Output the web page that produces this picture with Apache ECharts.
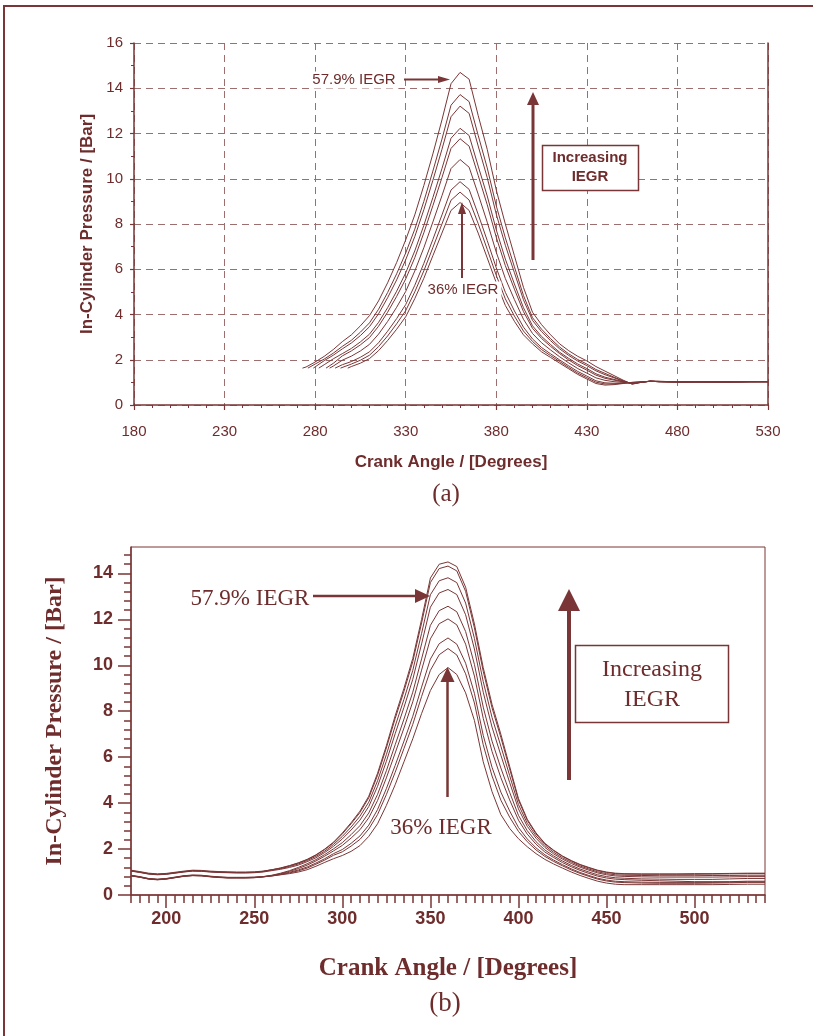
<!DOCTYPE html>
<html><head><meta charset="utf-8">
<script src="https://cdn.jsdelivr.net/npm/echarts@6/dist/echarts.min.js"></script>
<style>html,body{margin:0;padding:0;background:#fff}#c{width:813px;height:1036px}</style>
</head><body><div id="c"></div>
<script>
// ---------- Chart (a) data ----------
const anglesA = [275,280,285,290,295,300,305,310,315,320,325,330,335,340,345,350,355,360,365,370,375,380,385,390,395,400,405,410,415,420,425,430,435,440,445,450,455,460,465,470,480,490,500,510,520,530];
const startsA = [273,276,279,282,286,288,291,294,298];
const startPressureA = 1.63;
const pA1 = [1.68,1.90,2.15,2.45,2.80,3.10,3.50,3.95,4.60,5.40,6.30,7.30,8.40,9.70,11.10,12.60,14.20,14.70,14.40,12.80,11.30,9.50,8.00,6.60,5.20,4.10,3.55,3.10,2.70,2.40,2.15,1.95,1.70,1.50,1.30,1.10,0.92,1.00,1.05,1.05,1.02,1.03,1.02,1.02,1.03,1.03];
const pA2 = [null,1.81,2.03,2.29,2.59,2.86,3.22,3.63,4.23,4.97,5.80,6.72,7.77,9.00,10.34,11.75,13.25,13.72,13.41,11.92,10.48,8.80,7.39,6.11,4.84,3.86,3.35,2.93,2.56,2.26,2.01,1.81,1.57,1.40,1.23,1.07,0.93,1.00,1.05,1.04,1.02,1.03,1.02,1.02,1.03,1.03];
const pA3 = [null,1.68,1.96,2.20,2.48,2.74,3.07,3.46,4.03,4.74,5.53,6.42,7.44,8.63,9.93,11.30,12.74,13.21,12.89,11.45,10.05,8.43,7.06,5.85,4.65,3.74,3.24,2.84,2.48,2.19,1.94,1.74,1.51,1.34,1.20,1.06,0.94,1.01,1.05,1.04,1.02,1.02,1.02,1.03,1.03,1.03];
const pA4 = [null,null,1.78,2.04,2.27,2.50,2.79,3.13,3.65,4.30,5.03,5.84,6.81,7.94,9.17,10.45,11.79,12.23,11.91,10.56,9.24,7.74,6.45,5.35,4.30,3.50,3.03,2.67,2.33,2.06,1.81,1.61,1.38,1.23,1.13,1.04,0.95,1.01,1.05,1.04,1.03,1.02,1.02,1.02,1.03,1.04];
const pA5 = [null,null,null,1.84,2.17,2.39,2.66,2.98,3.48,4.10,4.80,5.57,6.51,7.61,8.81,10.05,11.34,11.77,11.44,10.15,8.85,7.41,6.16,5.12,4.13,3.39,2.94,2.59,2.27,1.99,1.74,1.54,1.32,1.18,1.10,1.02,0.96,1.01,1.05,1.03,1.02,1.02,1.03,1.02,1.03,1.03];
const pA6 = [null,null,null,1.72,1.98,2.16,2.39,2.68,3.13,3.69,4.32,5.02,5.92,6.95,8.09,9.25,10.45,10.85,10.51,9.32,8.08,6.75,5.59,4.66,3.79,3.16,2.75,2.43,2.13,1.86,1.61,1.41,1.20,1.09,1.03,1.00,0.97,1.01,1.05,1.03,1.02,1.03,1.02,1.02,1.03,1.03];
const pA7 = [null,null,null,null,1.78,1.92,2.11,2.35,2.75,3.26,3.82,4.44,5.29,6.26,7.32,8.40,9.50,9.87,9.53,8.43,7.27,6.06,4.98,4.16,3.44,2.92,2.54,2.26,1.99,1.73,1.48,1.28,1.07,0.98,0.96,0.97,0.99,1.02,1.05,1.03,1.02,1.02,1.02,1.03,1.03,1.03];
const pA8 = [null,null,null,null,1.66,1.81,1.98,2.20,2.58,3.05,3.59,4.17,5.00,5.93,6.96,8.00,9.05,9.41,9.06,8.02,6.88,5.73,4.69,3.93,3.27,2.81,2.45,2.18,1.92,1.66,1.41,1.21,1.01,0.93,0.93,0.96,1.00,1.02,1.05,1.03,1.02,1.03,1.02,1.02,1.03,1.03];
const pA9 = [null,null,null,null,null,1.70,1.85,2.05,2.40,2.85,3.35,3.90,4.70,5.60,6.60,7.60,8.60,8.95,8.60,7.60,6.50,5.40,4.40,3.70,3.10,2.70,2.35,2.10,1.85,1.60,1.35,1.15,0.95,0.88,0.90,0.95,1.00,1.02,1.05,1.03,1.02,1.02,1.03,1.02,1.03,1.03];

// ---------- Chart (b) data ----------
const anglesB = [180,185,190,195,200,205,210,215,220,225,230,235,240,245,250,255,260,265,270,275,280,285,290,295,300,305,310,315,320,325,330,335,340,345,350,355,360,365,370,375,380,385,390,395,400,405,410,415,420,425,430,435,440,445,450,455,460,470,480,490,500,510,520,530,540];
const pB1 = [1.06,1.00,0.93,0.90,0.92,0.97,1.02,1.06,1.05,1.02,1.00,0.99,0.98,0.98,0.99,1.03,1.10,1.18,1.28,1.40,
  1.55,1.75,2.00,2.30,2.70,3.15,3.65,4.30,5.30,6.50,7.80,9.00,10.30,12.00,13.80,14.40,14.50,14.30,13.40,11.80,9.90,8.30,7.00,5.60,4.20,3.30,2.70,2.25,1.95,1.70,1.50,1.33,1.20,1.08,1.00,0.95,0.93,
  0.92,0.92,0.92,0.93,0.93,0.94,0.95,0.95];
const pB2 = [1.05,0.99,0.92,0.89,0.91,0.96,1.01,1.05,1.04,1.01,0.99,0.98,0.97,0.97,0.98,1.02,1.09,1.17,1.27,1.39,
  1.54,1.73,1.98,2.27,2.66,3.10,3.59,4.23,5.21,6.40,7.68,8.87,10.16,11.84,13.60,14.21,14.32,14.11,13.22,11.63,9.74,8.15,6.86,5.49,4.13,3.25,2.66,2.22,1.93,1.68,1.48,1.31,1.18,1.06,0.98,0.93,0.91,
  0.90,0.90,0.90,0.90,0.91,0.92,0.93,0.93];
const pB3 = [1.08,1.02,0.95,0.92,0.94,0.99,1.04,1.08,1.07,1.04,1.02,1.01,1.00,1.00,1.01,1.04,1.10,1.15,1.24,1.35,
  1.50,1.68,1.91,2.20,2.55,2.96,3.43,4.04,4.97,6.11,7.35,8.52,9.78,11.39,13.07,13.68,13.81,13.60,12.71,11.17,9.29,7.73,6.48,5.20,3.94,3.12,2.57,2.15,1.86,1.62,1.43,1.26,1.13,1.01,0.93,0.88,0.86,
  0.85,0.84,0.84,0.84,0.85,0.85,0.86,0.86];
const pB4 = [1.04,0.98,0.91,0.88,0.90,0.95,1.00,1.04,1.03,1.00,0.98,0.97,0.96,0.96,0.97,1.00,1.06,1.12,1.20,1.30,
  1.45,1.62,1.85,2.12,2.44,2.83,3.26,3.85,4.73,5.82,7.02,8.17,9.39,10.93,12.53,13.15,13.30,13.08,12.20,10.71,8.83,7.31,6.09,4.90,3.75,2.99,2.47,2.07,1.79,1.56,1.37,1.21,1.08,0.96,0.88,0.83,0.81,
  0.79,0.78,0.78,0.78,0.78,0.79,0.80,0.80];
const pB5 = [0.85,0.79,0.71,0.68,0.71,0.77,0.83,0.86,0.85,0.81,0.78,0.76,0.76,0.76,0.77,0.80,0.86,0.95,1.06,1.20,
  1.36,1.54,1.76,2.01,2.28,2.63,3.02,3.57,4.38,5.41,6.54,7.66,8.83,10.28,11.74,12.38,12.57,12.33,11.47,10.04,8.18,6.70,5.53,4.47,3.47,2.80,2.32,1.96,1.70,1.48,1.29,1.13,1.00,0.88,0.80,0.75,0.73,
  0.70,0.69,0.68,0.68,0.68,0.70,0.72,0.72];
const pB6 = [0.84,0.78,0.70,0.67,0.70,0.76,0.82,0.85,0.84,0.80,0.77,0.75,0.75,0.75,0.76,0.80,0.85,0.93,1.03,1.15,
  1.30,1.48,1.69,1.92,2.16,2.48,2.84,3.36,4.11,5.10,6.18,7.27,8.41,9.79,11.15,11.81,12.02,11.76,10.92,9.53,7.69,6.25,5.11,4.14,3.26,2.65,2.21,1.87,1.63,1.41,1.23,1.07,0.94,0.82,0.74,0.69,0.67,
  0.64,0.62,0.60,0.58,0.58,0.58,0.60,0.60];
const pB7 = [0.83,0.77,0.69,0.66,0.69,0.75,0.81,0.84,0.83,0.79,0.76,0.74,0.74,0.74,0.75,0.79,0.84,0.91,0.99,1.09,
  1.22,1.39,1.58,1.80,1.98,2.25,2.57,3.04,3.72,4.63,5.64,6.70,7.78,9.05,10.27,10.94,11.19,10.92,10.09,8.78,6.95,5.56,4.48,3.66,2.94,2.44,2.05,1.75,1.52,1.32,1.14,0.98,0.85,0.73,0.65,0.60,0.58,
  0.56,0.55,0.55,0.55,0.55,0.56,0.57,0.57];
const pB8 = [0.86,0.80,0.72,0.69,0.72,0.78,0.84,0.87,0.86,0.82,0.79,0.77,0.77,0.77,0.78,0.79,0.83,0.89,0.96,1.05,
  1.17,1.34,1.52,1.73,1.88,2.13,2.42,2.87,3.50,4.37,5.34,6.38,7.43,8.64,9.78,10.46,10.73,10.45,9.63,8.36,6.54,5.18,4.13,3.39,2.77,2.32,1.96,1.68,1.46,1.27,1.09,0.94,0.81,0.69,0.61,0.56,0.54,
  0.52,0.51,0.51,0.51,0.52,0.53,0.55,0.55];
const pB9 = [0.84,0.78,0.70,0.67,0.70,0.76,0.82,0.85,0.84,0.80,0.77,0.75,0.75,0.75,0.76,0.79,0.83,0.88,0.93,1.00,
  1.10,1.25,1.42,1.58,1.72,1.90,2.15,2.55,3.10,3.90,4.80,5.80,6.80,7.90,8.90,9.60,9.90,9.60,8.80,7.60,5.80,4.50,3.50,2.90,2.45,2.10,1.80,1.55,1.35,1.17,1.00,0.85,0.72,0.60,0.52,0.47,0.45,
  0.45,0.45,0.45,0.45,0.45,0.46,0.47,0.47];

const xLabelsB = [200,250,300,350,400,450,500];
const yLabelsB = [0,2,4,6,8,10,12,14];

// ---------- styling ----------
const MAROON = '#7a3636';
const TEXT = '#6e2c2c';
const GRIDC = '#9d6e6e';
const SANS = '"Liberation Sans", Arial, sans-serif';
const SERIF = '"Liberation Serif", "Times New Roman", serif';

const curvesA = [pA1,pA2,pA3,pA4,pA5,pA6,pA7,pA8,pA9];
const curvesB = [pB1,pB2,pB3,pB4,pB5,pB6,pB7,pB8,pB9];

const series = [];
curvesA.forEach((vals,i)=>{
  const pts = [[startsA[i], startPressureA]];
  anglesA.forEach((a,j)=>{ if(vals[j]!==null) pts.push([a, vals[j]]); });
  series.push({type:'line', xAxisIndex:0, yAxisIndex:0, symbol:'none', showSymbol:false,
    lineStyle:{color:MAROON, width:1}, data:pts, z:3});
});
curvesB.forEach((vals)=>{
  series.push({type:'line', xAxisIndex:1, yAxisIndex:2, symbol:'none', showSymbol:false,
    lineStyle:{color:MAROON, width:1}, data:anglesB.map((a,j)=>[a, vals[j]]), z:3});
});

function arrow(x1,y1,x2,y2,w,hl,hw){
  const dx=x2-x1, dy=y2-y1, L=Math.hypot(dx,dy), ux=dx/L, uy=dy/L;
  const bx=x2-ux*hl, by=y2-uy*hl, px=-uy, py=ux;
  return [
    {type:'line', z:100, silent:true, shape:{x1:x1,y1:y1,x2:bx+ux,y2:by+uy}, style:{stroke:MAROON, lineWidth:w}},
    {type:'polygon', z:100, silent:true, shape:{points:[[x2,y2],[bx+px*hw/2,by+py*hw/2],[bx-px*hw/2,by-py*hw/2]]}, style:{fill:MAROON}}
  ];
}
function txt(t,x,y,font,opts){
  return {type:'text', z:101, silent:true, style:Object.assign({text:t, x:x, y:y, font:font, fill:TEXT,
    align:'center', verticalAlign:'middle', textAlign:'center', textVerticalAlign:'middle'}, opts||{})};
}

const graphics = [
  {type:'rect', z:0, silent:true, shape:{x:4,y:6,width:900,height:1100}, style:{fill:'none', stroke:MAROON, lineWidth:2}},
  // chart (a) annotations
  txt('57.9% IEGR', 354, 80, '15px '+SANS, {backgroundColor:'#fff', padding:[1,3]}),
  ...arrow(404,79.5,450,79.5,2,12,7),
  txt('36% IEGR', 463, 290, '15px '+SANS, {backgroundColor:'#fff', padding:[1,3]}),
  ...arrow(462,278,462,202,2,12,8),
  ...arrow(533,260,533,92,3,13,12),
  {type:'rect', z:100, silent:true, shape:{x:542.5,y:145.5,width:96,height:45}, style:{fill:'#fff', stroke:MAROON, lineWidth:1.5}},
  txt('Increasing\nIEGR', 590, 167.5, 'bold 15px '+SANS, {lineHeight:19}),
  txt('(a)', 446, 494, '25px '+SERIF),
  // chart (b) annotations
  txt('57.9% IEGR', 250, 599, '23px '+SERIF),
  ...arrow(313,596,430,596,2.5,15,14),
  txt('36% IEGR', 441, 828, '23px '+SERIF),
  ...arrow(447.5,797,447.5,667,2.5,15,14),
  ...arrow(569,780,569,589,4,22,22),
  {type:'rect', z:100, silent:true, shape:{x:575.5,y:645.5,width:153,height:77}, style:{fill:'#fff', stroke:MAROON, lineWidth:1.5}},
  txt('Increasing\nIEGR', 652, 685, '24px '+SERIF, {lineHeight:30}),
  txt('(b)', 445, 1004, '27px '+SERIF)
];

const option = {
  animation:false,
  backgroundColor:'#fff',
  grid:[
    {left:134, top:43, width:634, height:362},
    {left:131, top:547, width:634, height:348, show:true, borderColor:MAROON, borderWidth:1}
  ],
  xAxis:[
    {type:'value', gridIndex:0, min:180, max:530, interval:50, position:'bottom',
      axisLine:{show:true, onZero:false, lineStyle:{color:MAROON, width:1.5}},
      axisTick:{show:true, length:5, lineStyle:{color:MAROON, width:1.2}},
      minorTick:{show:true, splitNumber:5, length:3, lineStyle:{color:MAROON, width:1}},
      axisLabel:{color:TEXT, fontSize:15, fontFamily:SANS, margin:19},
      splitLine:{show:true, lineStyle:{color:GRIDC, width:1, type:[7,5]}},
      name:'Crank Angle / [Degrees]', nameLocation:'middle', nameGap:49,
      nameTextStyle:{color:TEXT, fontSize:17, fontWeight:'bold', fontFamily:SANS}},
    {type:'value', gridIndex:1, min:180, max:540, interval:10, position:'bottom',
      axisLine:{show:true, onZero:false, lineStyle:{color:MAROON, width:1.5}},
      axisTick:{show:true, length:8, lineStyle:{color:MAROON, width:1.5}},
      minorTick:{show:true, splitNumber:2, length:8, lineStyle:{color:MAROON, width:1.5}},
      axisLabel:{color:TEXT, fontSize:18, fontWeight:'bold', fontFamily:SANS, margin:15,
        formatter:function(v){ return xLabelsB.indexOf(v)>=0 ? String(v) : ''; }},
      splitLine:{show:false},
      name:'Crank Angle / [Degrees]', nameLocation:'middle', nameGap:61,
      nameTextStyle:{color:TEXT, fontSize:25, fontWeight:'bold', fontFamily:SERIF}},
    {type:'value', gridIndex:1, min:180, max:540, interval:10, position:'bottom',
      axisLine:{show:false, onZero:false},
      axisTick:{show:true, length:13, customValues:xLabelsB, lineStyle:{color:MAROON, width:1.5}},
      axisLabel:{show:false}, splitLine:{show:false}}
  ],
  yAxis:[
    {type:'value', gridIndex:0, min:0, max:16, interval:2, position:'left',
      axisLine:{show:true, onZero:false, lineStyle:{color:MAROON, width:1.5}},
      axisTick:{show:true, length:4, lineStyle:{color:MAROON, width:1.2}},
      minorTick:{show:true, splitNumber:2, length:3, lineStyle:{color:MAROON, width:1}},
      axisLabel:{color:TEXT, fontSize:15, fontFamily:SANS, margin:11},
      splitLine:{show:true, lineStyle:{color:GRIDC, width:1, type:[7,5]}},
      name:'In-Cylinder Pressure / [Bar]', nameLocation:'middle', nameGap:37,
      nameTextStyle:{color:TEXT, fontSize:17, fontWeight:'bold', fontFamily:SANS}},
    {type:'value', gridIndex:0, min:0, max:16, interval:2, position:'right',
      axisLine:{show:true, onZero:false, lineStyle:{color:MAROON, width:1.5}},
      axisTick:{show:false}, axisLabel:{show:false}, splitLine:{show:false}},
    {type:'value', gridIndex:1, min:0, max:15.15, interval:2, position:'left',
      axisLine:{show:true, onZero:false, lineStyle:{color:MAROON, width:1.5}},
      axisTick:{show:true, length:13, customValues:yLabelsB, lineStyle:{color:MAROON, width:1.5}},
      minorTick:{show:true, splitNumber:5, length:7, lineStyle:{color:MAROON, width:1.5}},
      axisLabel:{color:TEXT, fontSize:18, fontWeight:'bold', fontFamily:SANS, margin:18, customValues:yLabelsB},
      splitLine:{show:false},
      name:'In-Cylinder Pressure / [Bar]', nameLocation:'middle', nameGap:64,
      nameTextStyle:{color:TEXT, fontSize:24, fontWeight:'bold', fontFamily:SERIF}}
  ],
  series: series,
  graphic: {elements: graphics}
};

const chart = echarts.init(document.getElementById('c'), null, {renderer:'canvas'});
chart.setOption(option);
</script></body></html>
